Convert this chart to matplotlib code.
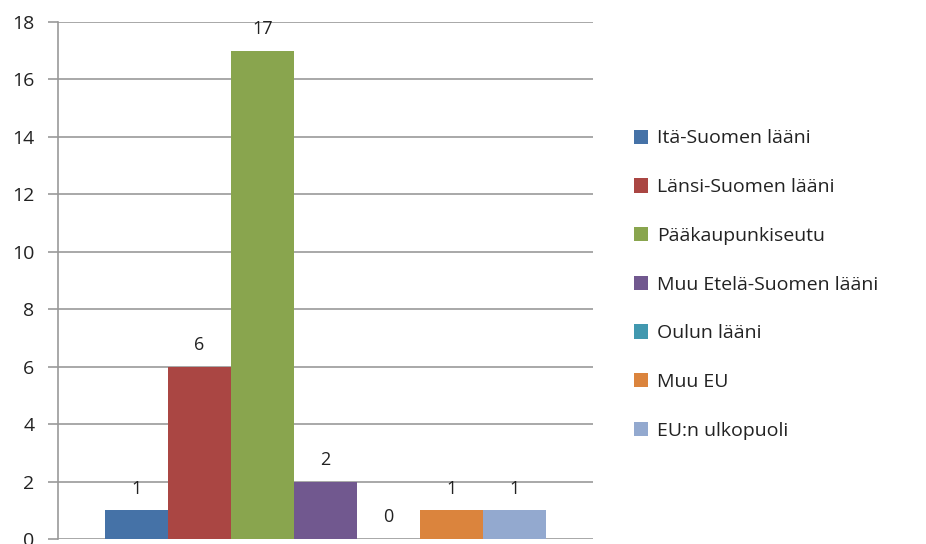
import matplotlib
matplotlib.use("Agg")
import matplotlib.pyplot as plt
from matplotlib.patches import Patch

series = ["Itä-Suomen lääni", "Länsi-Suomen lääni", "Pääkaupunkiseutu",
          "Muu Etelä-Suomen lääni", "Oulun lääni", "Muu EU", "EU:n ulkopuoli"]
values = [1, 6, 17, 2, 0, 1, 1]
colors = ["#4572A7", "#AA4643", "#89A54E", "#71588F", "#4198AF", "#DB843D", "#93A9CF"]
yticks = [0, 2, 4, 6, 8, 10, 12, 14, 16, 18]

plt.rcParams['font.family'] = ['Open Sans', 'DejaVu Sans']

fig = plt.figure(figsize=(9.26, 5.44), dpi=100)
ax = fig.add_axes([58/926, 5/544, (593-58)/926, (539-22)/544])

w = 63/535
n = len(values)
for i, (v, c) in enumerate(zip(values, colors)):
    x = (i - (n-1)/2) * w
    ax.bar(x, v, width=w, color=c, zorder=3)
    ax.annotate(str(v), (x, v), xytext=(0, 9), textcoords='offset points',
                ha='center', va='bottom', fontsize=13, color='#222222')

ax.set_xlim(-0.5, 0.5)
ax.set_ylim(0, 18)
ax.set_yticks(yticks)
ax.set_xticks([])
ax.yaxis.grid(True, color='#999999', linewidth=1.2, zorder=0)
for s in ['top', 'right', 'bottom']:
    ax.spines[s].set_visible(False)
ax.spines['left'].set_color('#999999')
ax.spines['left'].set_linewidth(1.2)
ax.tick_params(axis='y', length=7, width=1.2, color='#999999', labelsize=14,
               labelcolor='#222222', pad=10)

handles = [Patch(facecolor=c, edgecolor='none') for c in colors]
fig.legend(handles, series, loc='upper left', bbox_to_anchor=(616/926, 1 - 112/544),
           frameon=False, fontsize=14,
           handlelength=0.75, handleheight=0.75,
           handletextpad=0.45, labelspacing=1.58, labelcolor='#222222')

fig.savefig("out.png", dpi=100)
